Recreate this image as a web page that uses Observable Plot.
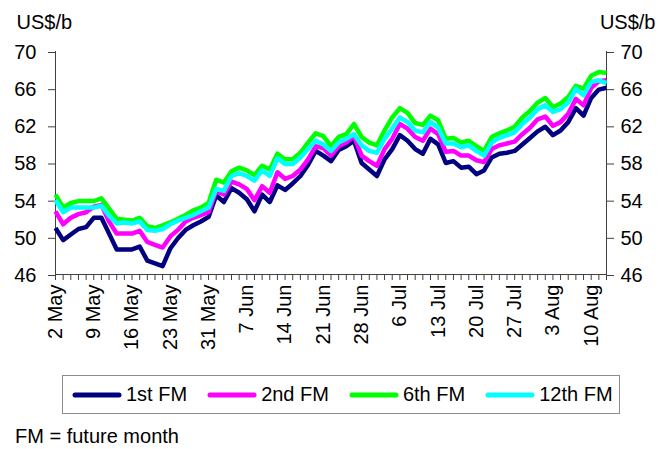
<!DOCTYPE html>
<html>
<head>
<meta charset="utf-8">
<script src="https://cdn.jsdelivr.net/npm/d3@7"></script>
<script src="https://cdn.jsdelivr.net/npm/@observablehq/plot@0.6"></script>
<style>
  body { margin: 0; background: #fff; font-family: "Liberation Sans", Arial, sans-serif; }
  #wrap { position: relative; width: 660px; height: 449px; overflow: hidden; }
  #legend {
    position: absolute; left: 62px; top: 375px; width: 558px; height: 39px;
    box-sizing: border-box; border: 1px solid #8c8c8c;
    display: flex; align-items: center; padding-left: 9px; gap: 20px;
    font-size: 20px; color: #000;
  }
  .item { display: flex; align-items: center; gap: 4px; white-space: nowrap; }
  #caption { position: absolute; left: 15px; top: 425px; font-size: 20px; color: #000; }
</style>
</head>
<body>
<div id="wrap">
  <div id="chart"></div>
  <div id="legend"></div>
  <div id="caption">FM = future month</div>
</div>
<script>
// Trading days, 2 May – 12 Aug
const dates = [
  "2 May","3 May","4 May","5 May","6 May","9 May","10 May","11 May","12 May","13 May",
  "16 May","17 May","18 May","19 May","20 May","23 May","24 May","25 May","26 May","27 May","31 May",
  "1 Jun","2 Jun","3 Jun","6 Jun","7 Jun","8 Jun","9 Jun","10 Jun","13 Jun","14 Jun",
  "15 Jun","16 Jun","17 Jun","20 Jun","21 Jun","22 Jun","23 Jun","24 Jun","27 Jun","28 Jun",
  "29 Jun","30 Jun",
  "1 Jul","5 Jul","6 Jul","7 Jul","8 Jul","11 Jul","12 Jul","13 Jul","14 Jul","15 Jul",
  "18 Jul","19 Jul","20 Jul","21 Jul","22 Jul","25 Jul","26 Jul","27 Jul","28 Jul","29 Jul",
  "1 Aug","2 Aug","3 Aug","4 Aug","5 Aug","8 Aug","9 Aug","10 Aug","11 Aug","12 Aug"
];

// Futures prices, US$ per barrel
const fm1 = [
  51.0,49.7,50.3,50.9,51.1,52.1,52.1,50.4,48.7,48.7,
  48.7,49.0,47.5,47.2,46.9,48.8,49.9,50.8,51.3,51.7,
  52.2,54.5,53.8,55.3,54.8,54.1,52.8,54.6,53.8,55.6,
  55.1,55.8,56.6,57.8,59.3,58.8,58.2,59.4,59.8,60.4,
  58.0,57.3,56.6,58.4,59.5,61.0,60.4,59.5,59.0,60.6,
  60.0,58.0,58.2,57.5,57.6,56.8,57.2,58.6,59.0,59.1,
  59.3,60.0,60.7,61.4,61.9,61.0,61.5,62.4,63.9,63.1,
  65.0,65.9,66.1
];
const fm2 = [
  52.8,51.4,52.1,52.5,52.7,53.3,53.5,51.7,50.4,50.4,
  50.4,50.7,49.5,49.2,48.9,50.1,50.8,51.7,52.1,52.4,
  52.7,55.0,54.6,56.0,55.7,55.2,54.0,55.5,54.8,57.0,
  56.3,56.6,57.3,58.4,59.8,59.6,58.8,59.8,60.2,60.9,
  58.8,58.2,57.7,59.5,60.6,62.2,61.7,60.8,60.4,61.7,
  61.1,59.2,59.3,58.8,58.8,58.3,58.1,59.5,59.9,60.1,
  60.3,61.1,61.8,62.7,63.0,62.0,62.4,63.3,64.9,64.2,
  66.1,66.8,66.9
];
const fm6 = [
  54.6,53.2,53.7,53.9,53.9,53.9,54.2,53.1,52.0,51.9,
  51.8,52.1,51.2,51.0,51.3,51.6,52.0,52.4,52.9,53.2,
  53.7,56.2,55.9,57.1,57.5,57.2,56.7,57.7,57.3,59.0,
  58.4,58.4,59.1,60.2,61.2,60.9,59.8,60.8,61.1,62.2,
  60.8,60.2,59.9,61.5,62.9,63.9,63.4,62.3,62.1,63.1,
  62.6,60.6,60.7,60.2,60.4,59.8,59.3,60.8,61.2,61.5,
  61.9,62.9,63.6,64.5,65.0,64.0,64.4,65.1,66.3,66.0,
  67.4,67.8,67.7
];
const fm12 = [
  54.0,52.7,53.2,53.2,53.2,53.2,53.4,52.3,51.5,51.6,
  51.5,51.7,50.8,50.7,50.9,51.4,51.8,52.1,52.4,52.8,
  53.2,55.2,55.0,56.6,56.9,56.6,56.1,57.2,56.6,58.5,
  57.9,57.9,58.6,59.5,60.4,60.0,59.3,60.2,60.6,61.1,
  59.9,59.3,59.1,60.6,61.7,62.9,62.4,61.5,61.3,62.4,
  61.8,60.1,60.1,59.7,59.9,59.3,58.8,60.2,60.7,61.0,
  61.3,62.2,62.9,63.8,64.2,63.5,63.8,64.5,66.0,65.3,
  66.7,66.9,66.6
];

const seriesNames = ["1st FM", "2nd FM", "6th FM", "12th FM"];
const seriesColors = ["#000080", "#ff00ff", "#00ff00", "#00ffff"];
const seriesValues = [fm1, fm2, fm6, fm12];
const yTicks = [46, 50, 54, 58, 62, 66, 70];
const unitLabel = "US$/b";

const rows = seriesValues.flatMap((vals, s) =>
  vals.map((v, i) => ({ i, date: dates[i], value: v, series: seriesNames[s] }))
);

const axisColor = "#404040";
const font = "Liberation Sans, Arial, sans-serif";
const last = dates.length - 1;

const chart = Plot.plot({
  width: 660,
  height: 360,
  marginLeft: 55,
  marginRight: 54,
  marginTop: 51,
  marginBottom: 86,
  style: { fontFamily: font, fontSize: "20px", color: "#000", background: "#fff", overflow: "visible" },
  x: { type: "linear", domain: [0, last] },
  y: { domain: [46, 70] },
  color: { domain: seriesNames, range: seriesColors },
  marks: [
    Plot.axisY({ anchor: "left", ticks: yTicks, tickSize: 7, tickPadding: 12, stroke: axisColor, fontSize: 20, label: null, dy: 1 }),
    Plot.axisY({ anchor: "right", ticks: yTicks, tickSize: 7, tickPadding: 7, stroke: axisColor, fontSize: 20, label: null, dy: 1 }),
    Plot.axisX({ ticks: d3.range(0, dates.length), tickSize: 6, tickFormat: () => "", stroke: axisColor, label: null }),
    Plot.axisX({ ticks: d3.range(0, dates.length, 5), tickSize: 0, tickPadding: 10, tickRotate: -90,
                 tickFormat: i => dates[i], fontSize: 20, label: null }),
    Plot.ruleX([0, last], { stroke: axisColor, strokeWidth: 1 }),
    Plot.ruleY([46], { stroke: axisColor, strokeWidth: 1 }),
    Plot.lineY(rows, { x: "i", y: "value", z: "series", stroke: "series", strokeWidth: 4.5,
                       strokeLinejoin: "round", strokeLinecap: "butt" }),
    Plot.text([unitLabel], { frameAnchor: "top-left", textAnchor: "start", lineAnchor: "bottom",
                             dx: -39, dy: -23, fontSize: 20 }),
    Plot.text([unitLabel], { frameAnchor: "top-right", textAnchor: "end", lineAnchor: "bottom",
                             dx: 49, dy: -23, fontSize: 20 })
  ]
});
document.getElementById("chart").appendChild(chart);

// Legend built from the same series names and colours
const legend = document.getElementById("legend");
seriesNames.forEach((name, k) => {
  const item = document.createElement("div");
  item.className = "item";
  item.innerHTML =
    `<svg width="50" height="10"><line x1="3" x2="47" y1="5" y2="5" stroke="${seriesColors[k]}" stroke-width="5" stroke-linecap="round"/></svg><span>${name}</span>`;
  legend.appendChild(item);
});
</script>
</body>
</html>
